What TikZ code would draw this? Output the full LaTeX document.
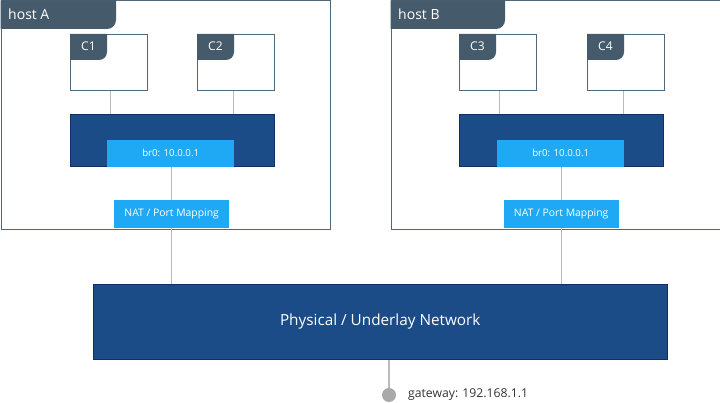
\documentclass[tikz,border=0pt]{standalone}
\usepackage{fontspec}
\setmainfont{Open Sans}
\definecolor{slate}{HTML}{455B6B}
\definecolor{hostline}{HTML}{50687A}
\definecolor{navy}{HTML}{1B4C88}
\definecolor{navyedge}{HTML}{0F2F66}
\definecolor{sky}{HTML}{1FA9F4}
\definecolor{wirec}{HTML}{BBBBBB}
\definecolor{dotc}{HTML}{A9A9A9}
\definecolor{txtc}{HTML}{333333}
\tikzset{
  hostbox/.style={draw=hostline, line width=0.9pt, fill=white, inner sep=0pt, anchor=north west},
  ctrbox/.style={draw=hostline, line width=0.8pt, fill=white, inner sep=0pt, anchor=north west, minimum width=77pt, minimum height=56pt},
  bridgebox/.style={draw=navyedge, line width=0.6pt, fill=navy, inner sep=0pt, anchor=north west, minimum width=204pt, minimum height=52pt},
  brlbl/.style={fill=sky, inner sep=0pt, anchor=north west, minimum width=127pt, minimum height=27pt, text=white, font=\fontsize{9.7}{11}\selectfont},
  natbox/.style={fill=sky, inner sep=0pt, anchor=north west, minimum width=115pt, minimum height=28pt, text=white, font=\fontsize{10.4}{12}\selectfont},
  tabtext/.style={text=white, anchor=west, inner sep=0pt},
  wire/.style={draw=wirec, line width=0.8pt},
}
\newcommand{\mktab}[5]{% x0 y0 x1 y1 r
  \fill[slate] (#1,#2) -- (#3,#2) -- (#3,#4-#5) .. controls (#3,#4-0.448*#5) and (#3-0.448*#5,#4) .. (#3-#5,#4) -- (#1,#4) -- cycle;}
\begin{document}
\begin{tikzpicture}[x=1pt,y=-1pt]
\useasboundingbox (0,0) rectangle (720,403);
% hosts
\node[hostbox, minimum width=329.5pt, minimum height=229pt] (hostA) at (0.5,0.5) {};
\node[hostbox, minimum width=329pt, minimum height=229pt] (hostB) at (390.5,0.5) {};
\mktab{0.5}{0.5}{116}{29}{9}
\mktab{390.5}{0.5}{505}{29}{9}
\node[tabtext, font=\fontsize{14}{16}\selectfont] (hostAlbl) at (8,14.5) {host A};
\node[tabtext, font=\fontsize{14}{16}\selectfont] (hostBlbl) at (398,14.5) {host B};
% containers
\node[ctrbox] (C1) at (70,34) {};
\node[ctrbox] (C2) at (197,34) {};
\node[ctrbox] (C3) at (459,34) {};
\node[ctrbox] (C4) at (587,34) {};
\mktab{70}{34}{107}{60}{8}
\mktab{197}{34}{234}{60}{8}
\mktab{459}{34}{496}{60}{8}
\mktab{587}{34}{624}{60}{8}
\node[tabtext, font=\fontsize{12}{14}\selectfont] (C1lbl) at (81,46.5) {C1};
\node[tabtext, font=\fontsize{12}{14}\selectfont] (C2lbl) at (208,46.5) {C2};
\node[tabtext, font=\fontsize{12}{14}\selectfont] (C3lbl) at (470,46.5) {C3};
\node[tabtext, font=\fontsize{12}{14}\selectfont] (C4lbl) at (598,46.5) {C4};
% bridges
\node[bridgebox] (brA) at (70,114) {};
\node[bridgebox] (brB) at (459,114) {};
\node[brlbl] (br0A) at (107,139.5) {br0: 10.0.0.1};
\node[brlbl] (br0B) at (497,139.5) {br0: 10.0.0.1};
% NAT
\node[natbox] (natA) at (114,200) {NAT / Port Mapping};
\node[natbox] (natB) at (503.5,200) {NAT / Port Mapping};
% physical
\node[fill=navy, draw=navyedge, line width=0.5pt, inner sep=0pt, anchor=north west, minimum width=574pt, minimum height=75pt, text=white, font=\fontsize{15.3}{18}\selectfont] (phys) at (93,284) {Physical / Underlay Network};
% gateway
\node[circle, fill=dotc, inner sep=0pt, minimum size=14pt] (gw) at (389,395) {};
\node[anchor=west, inner sep=0pt, text=txtc, font=\fontsize{12.2}{14}\selectfont] (gwlbl) at (408,395) {gateway: 192.168.1.1};
% connectors
\draw[wire] ([xshift=1.5pt]C1.south) -- ([xshift=1.5pt]C1.south |- brA.north);
\draw[wire] ([xshift=-2.5pt]C2.south) -- ([xshift=-2.5pt]C2.south |- brA.north);
\draw[wire] ([xshift=1.5pt]C3.south) -- ([xshift=1.5pt]C3.south |- brB.north);
\draw[wire] ([xshift=-2.5pt]C4.south) -- ([xshift=-2.5pt]C4.south |- brB.north);
\draw[wire] (br0A.south -| natA.north) -- (natA.north);
\draw[wire] (br0B.south -| natB.north) -- (natB.north);
\draw[wire] (natA.south) -- (natA.south |- phys.north);
\draw[wire] (natB.south) -- (natB.south |- phys.north);
\draw[wire, line width=1.2pt] (phys.south -| gw.north) -- (gw.north);
\end{tikzpicture}
\end{document}
